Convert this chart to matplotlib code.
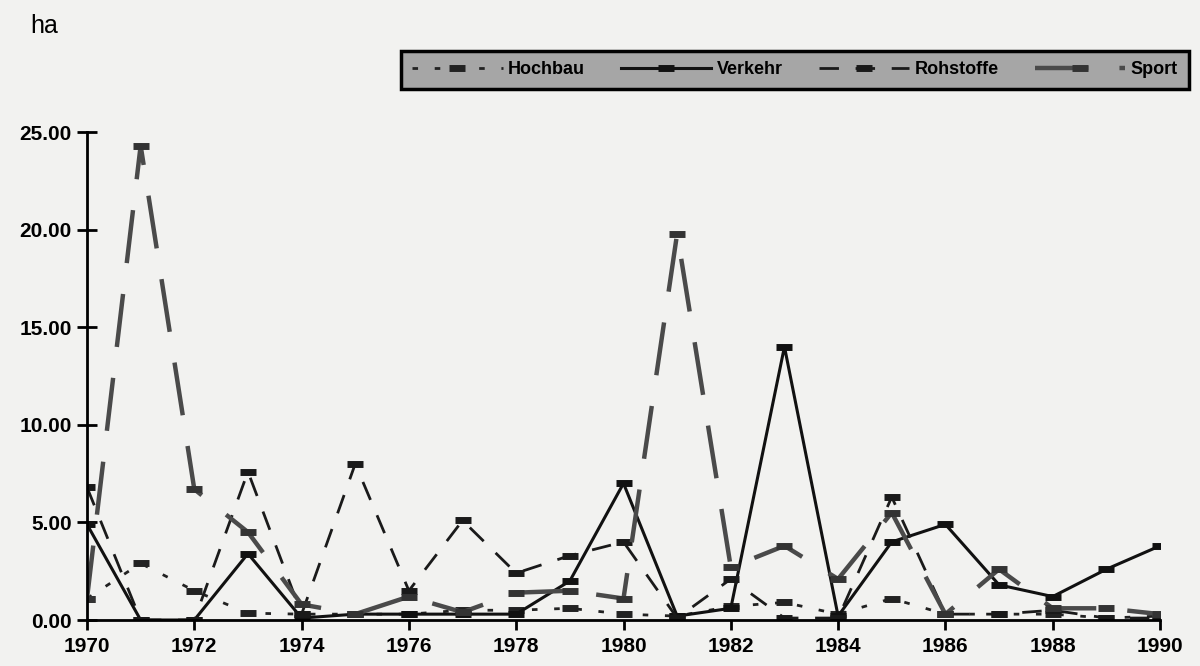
import matplotlib
matplotlib.use("Agg")
import matplotlib.pyplot as plt

years = list(range(1970, 1991))
hochbau = [1.1, 2.9, 1.5, 0.35, 0.3, 0.3, 0.3, 0.5, 0.5, 0.6, 0.3, 0.2, 0.7, 0.9, 0.3, 1.1, 0.3, 0.3, 0.3, 0.1, 0.2]
verkehr = [4.9, 0.0, 0.0, 3.4, 0.1, 0.3, 0.3, 0.3, 0.3, 2.0, 7.0, 0.2, 0.6, 14.0, 0.2, 4.0, 4.9, 1.8, 1.2, 2.6, 3.8]
rohstoffe = [6.8, 0.0, 0.0, 7.6, 0.3, 8.0, 1.5, 5.1, 2.4, 3.3, 4.0, 0.1, 2.1, 0.1, 0.1, 6.3, 0.3, 0.3, 0.5, 0.1, 0.1]
sport = [1.1, 24.3, 6.7, 4.5, 0.8, 0.3, 1.2, 0.4, 1.4, 1.5, 1.1, 19.8, 2.7, 3.8, 2.1, 5.5, 0.3, 2.6, 0.6, 0.6, 0.3]
series_names = ["Hochbau", "Verkehr", "Rohstoffe", "Sport"]
xticks = list(range(1970, 1991, 2))
yticks = [0, 5, 10, 15, 20, 25]

plt.rcParams['font.family'] = ['Liberation Sans', 'DejaVu Sans']

fig = plt.figure(figsize=(12, 6.66), dpi=100)
fig.patch.set_facecolor('#f2f2f0')
ax = fig.add_axes([87/1200, 46/666, (1160-87)/1200, (620-132)/666])
ax.set_facecolor('none')

mk = dict(marker='_', markersize=11, markeredgewidth=5)
styles = [
    dict(color='#222222', lw=2.0, linestyle=(0, (2, 6)), markeredgecolor='#222222'),
    dict(color='#111111', lw=2.2, linestyle='-', markeredgecolor='#111111'),
    dict(color='#1a1a1a', lw=2.0, linestyle=(0, (7, 6)), markeredgecolor='#1a1a1a'),
    dict(color='#4a4a4a', lw=3.2, linestyle=(0, (12, 7)), markeredgecolor='#333333'),
]
handles = []
for name, vals, st in zip(series_names, [hochbau, verkehr, rohstoffe, sport], styles):
    h, = ax.plot(years, vals, label=name, **mk, **st)
    handles.append(h)

ax.set_xlim(1970, 1990)
ax.set_ylim(0, 25)
ax.set_xticks(xticks)
ax.set_yticks(yticks)
ax.set_yticklabels([f"{v:.2f}" for v in yticks])
for lab in ax.get_xticklabels() + ax.get_yticklabels():
    lab.set_fontweight('bold')
    lab.set_fontsize(15)
ax.spines['top'].set_visible(False)
ax.spines['right'].set_visible(False)
ax.spines['left'].set_linewidth(2)
ax.spines['bottom'].set_linewidth(2)
ax.tick_params(axis='y', direction='inout', length=14, width=2, pad=4)
ax.tick_params(axis='x', direction='out', length=7, width=2, pad=5)
ax.margins(0)

fig.text(30/1200, 1 - 26/666, "ha", fontsize=18, va='center', ha='left')

leg = fig.legend(handles=handles, labels=series_names, ncol=4,
                 loc='center', bbox_to_anchor=(795/1200, 1 - 70/666),
                 frameon=True, fancybox=False, edgecolor='black',
                 facecolor='#a6a6a6', framealpha=1, handlelength=5.0,
                 columnspacing=2.0, handletextpad=0.3, borderpad=0.6,
                 prop={'weight': 'bold', 'size': 13})
leg.get_frame().set_linewidth(2.5)

fig.savefig("out.png", dpi=100, facecolor=fig.get_facecolor())
